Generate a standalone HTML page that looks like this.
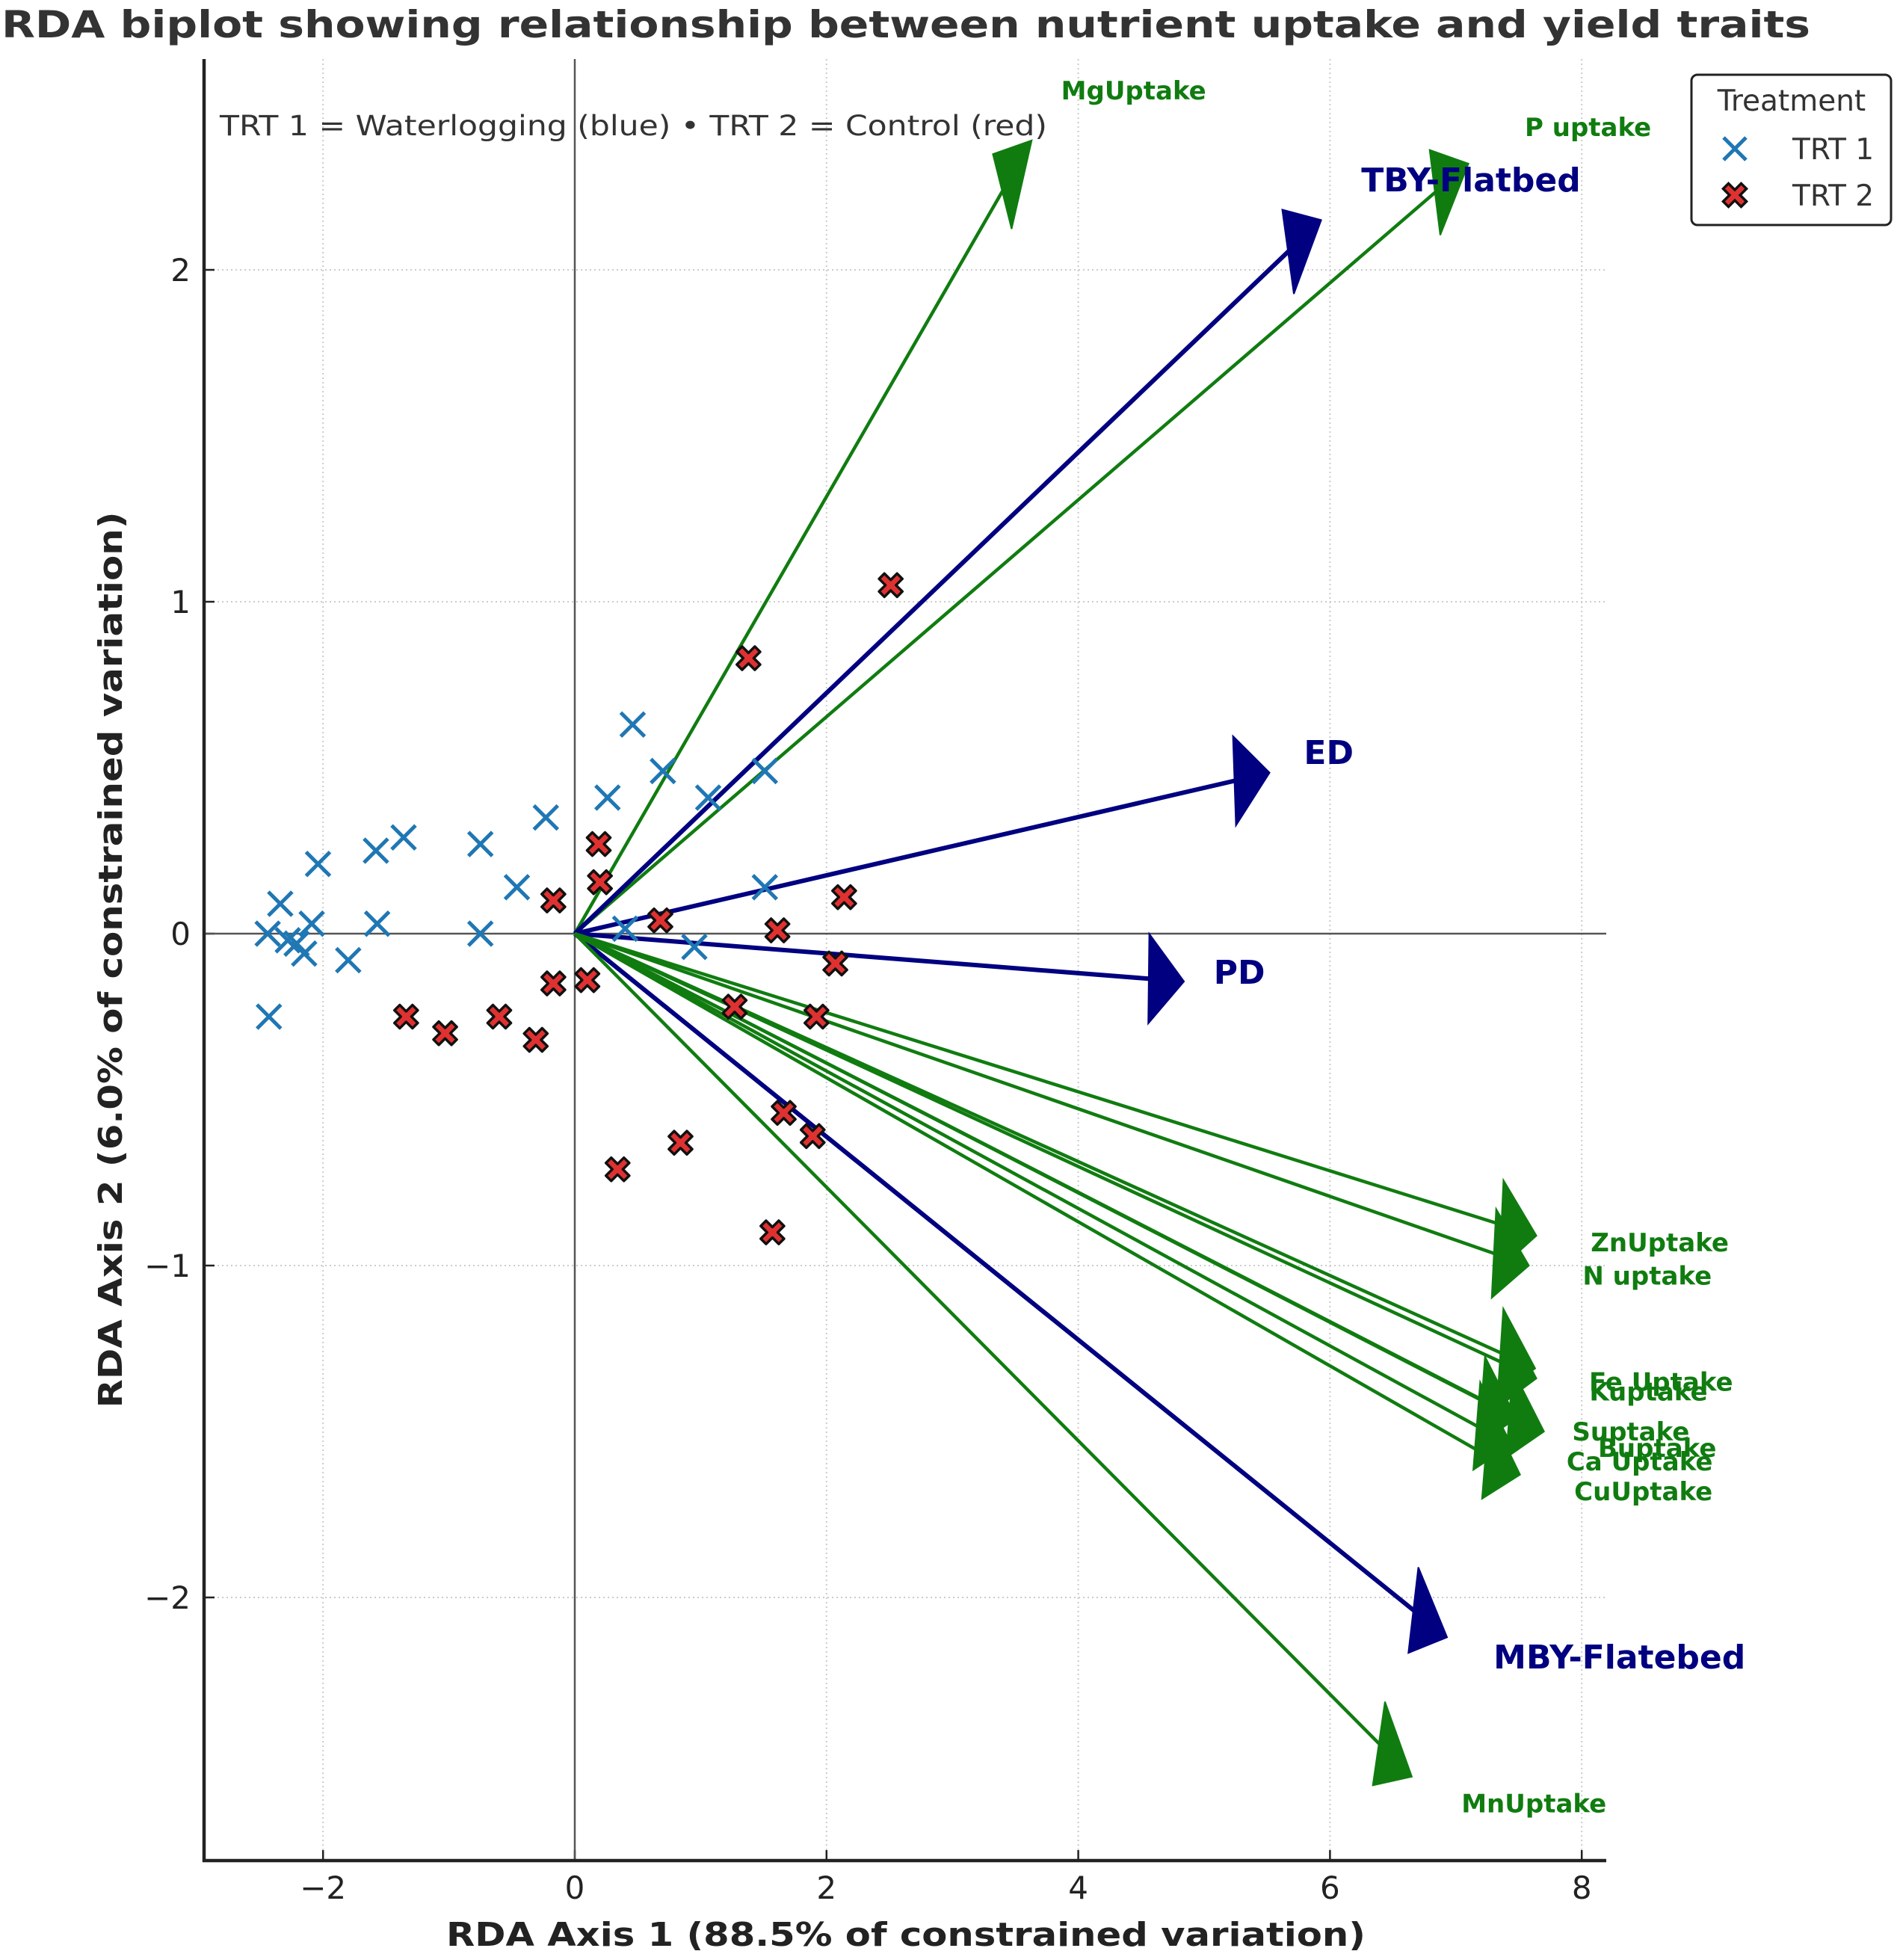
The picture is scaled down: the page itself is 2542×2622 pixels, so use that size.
<!DOCTYPE html>
<html><head><meta charset="utf-8"><style>
html,body{margin:0;padding:0;background:#fff;}
svg{display:block;font-family:"DejaVu Sans","Liberation Sans",sans-serif;}
</style></head><body>
<svg id="chart" width="2542" height="2622" viewBox="0 0 2542 2622" xmlns="http://www.w3.org/2000/svg">
<rect width="2542" height="2622" fill="#fff"/>
<g id="grid"></g>
<g id="axes"></g>
<g id="arrows"></g>
<g id="points"></g>
<g id="labels"></g>
<text x="1212" y="50" text-anchor="middle" font-size="50" font-weight="bold" fill="#333" textLength="2420" lengthAdjust="spacingAndGlyphs">RDA biplot showing relationship between nutrient uptake and yield traits</text>
<text x="294" y="181" font-size="37" fill="#333" textLength="1107" lengthAdjust="spacingAndGlyphs">TRT 1 = Waterlogging (blue)  •  TRT 2 = Control (red)</text>
<text x="1212" y="2603" text-anchor="middle" font-size="44" font-weight="bold" fill="#222" textLength="1230" lengthAdjust="spacingAndGlyphs">RDA Axis 1 (88.5% of constrained variation)</text>
<text transform="translate(163,1284) rotate(-90)" text-anchor="middle" font-size="44" font-weight="bold" fill="#222" textLength="1199" lengthAdjust="spacingAndGlyphs">RDA Axis 2 (6.0% of constrained variation)</text>
<g>
<rect x="2263" y="100" width="267" height="201" rx="8" fill="#fff" stroke="#222" stroke-width="3"/>
<text x="2397" y="148" text-anchor="middle" font-size="39" fill="#333">Treatment</text>
<g>
<path d="M2306 184 L2336 214 M2336 184 L2306 214" stroke="#1f77b4" stroke-width="5"/>
<text x="2398" y="213" font-size="39" fill="#333">TRT 1</text>
</g>
<g>
<path transform="translate(2321,261) rotate(45)" d="M-5 -17 H5 V-5 H17 V5 H5 V17 H-5 V5 H-17 V-5 H-5 Z" fill="#e03131" stroke="#111" stroke-width="3.5"/>
<text x="2398" y="275" font-size="39" fill="#333">TRT 2</text>
</g>
</g>
</svg>
<script>
const xTicks=[-2,0,2,4,6,8];
const yTicks=[-2,-1,0,1,2];
const trt1X=[-2.44,-2.34,-2.28,-2.21,-2.15,-2.09,-2.04,-2.43,-1.80,-1.58,-1.57,-1.36,-0.75,-0.75,-0.46,-0.23,0.26,0.46,0.70,1.06,1.51,1.51,0.40,0.95];
const trt1Y=[0.00,0.09,-0.02,-0.03,-0.06,0.03,0.21,-0.25,-0.08,0.25,0.03,0.29,0.27,0.00,0.14,0.35,0.41,0.63,0.49,0.41,0.49,0.14,0.015,-0.04];
const trt2X=[2.51,1.38,0.19,0.20,-0.17,0.68,1.61,2.14,2.07,-0.17,0.10,-1.34,-1.03,-0.60,-0.31,1.27,1.92,1.66,1.89,0.84,0.34,1.57];
const trt2Y=[1.05,0.83,0.27,0.155,0.10,0.04,0.01,0.11,-0.09,-0.15,-0.14,-0.25,-0.30,-0.25,-0.32,-0.22,-0.25,-0.54,-0.61,-0.63,-0.71,-0.90];
const vecNames=["MgUptake","P uptake","TBY-Flatbed","ED","PD","MBY-Flatebed","MnUptake","ZnUptake","N uptake","Fe Uptake","Kuptake","Suptake","Buptake","Ca Uptake","CuUptake"];
const vecX=[3.63,7.10,5.93,5.52,4.84,6.93,6.65,7.64,7.58,7.63,7.64,7.48,7.70,7.44,7.51];
const vecY=[2.39,2.32,2.15,0.485,-0.144,-2.12,-2.54,-0.91,-1.00,-1.31,-1.34,-1.46,-1.50,-1.54,-1.63];
const vecKind=["nut","nut","yield","yield","yield","yield","nut","nut","nut","nut","nut","nut","nut","nut","nut"];
const labX=[4.44,8.05,7.12,5.99,5.28,8.30,7.62,8.62,8.52,8.63,8.53,8.39,8.60,8.46,8.49];
const labY=[2.54,2.43,2.27,0.545,-0.117,-2.18,-2.62,-0.93,-1.03,-1.35,-1.38,-1.50,-1.55,-1.59,-1.68];

const NS="http://www.w3.org/2000/svg";
const X0=769,XU=168.4,Y0=1249,YU=444,L=273,R=2149,T=79,B=2489;
const sx=v=>X0+v*XU, sy=v=>Y0-v*YU;
function mk(tag,attrs,parent){const e=document.createElementNS(NS,tag);for(const k in attrs)e.setAttribute(k,attrs[k]);parent.appendChild(e);return e;}
const grid=document.getElementById('grid'),axes=document.getElementById('axes');
xTicks.forEach(t=>{
  const g=mk('line',{x1:sx(t),x2:sx(t),y1:T,y2:B,stroke:'#ccc','stroke-width':2,'stroke-dasharray':'2,4'},grid);
  
  
  const tk=mk('line',{x1:sx(t),x2:sx(t),y1:B,y2:B-14,stroke:'#222','stroke-width':2.5},axes);
  
  
  const tx=mk('text',{x:sx(t),y:2540,'text-anchor':'middle','font-size':42,fill:'#222'},axes);
  tx.textContent=(t<0?'\u2212':'')+Math.abs(t);
  
  
});
yTicks.forEach(t=>{
  const g=mk('line',{x1:L,x2:R,y1:sy(t),y2:sy(t),stroke:'#ccc','stroke-width':2,'stroke-dasharray':'2,4'},grid);
  
  
  const tk=mk('line',{x1:L,x2:L+14,y1:sy(t),y2:sy(t),stroke:'#222','stroke-width':2.5},axes);
  
  
  const tx=mk('text',{x:255,y:sy(t)+15,'text-anchor':'end','font-size':42,fill:'#222'},axes);
  tx.textContent=(t<0?'\u2212':'')+Math.abs(t);
  
  
});
const zx=mk('line',{x1:sx(0),x2:sx(0),y1:T,y2:B,stroke:'#555','stroke-width':2.5},axes);


const zy=mk('line',{x1:L,x2:R,y1:sy(0),y2:sy(0),stroke:'#555','stroke-width':2.5},axes);


const sl=mk('line',{x1:L,x2:L,y1:T,y2:B+2,stroke:'#222','stroke-width':4.5},axes);


const sb=mk('line',{x1:L-2,x2:R,y1:B,y2:B,stroke:'#222','stroke-width':4.5},axes);



const arrows=document.getElementById('arrows'),labels=document.getElementById('labels');
const HW=0.27,HL=0.28;
vecNames.forEach((n,i)=>{
  const col=vecKind[i]==='yield'?'#000080':'#107c10';
  const vx=vecX[i],vy=vecY[i],len=Math.hypot(vx,vy),dx=vx/len,dy=vy/len,px=-dy,py=dx;
  const bx=vx-HL*dx,by=vy-HL*dy;
  const g=mk('g',{},arrows);
  
  
  mk('line',{x1:sx(0),y1:sy(0),x2:sx(bx+0.05*dx),y2:sy(by+0.05*dy),stroke:col,'stroke-width':vecKind[i]==='yield'?6:4.5},g);
  const pts=[[vx,vy],[bx+HW/2*px,by+HW/2*py],[bx-HW/2*px,by-HW/2*py]].map(p=>sx(p[0])+','+sy(p[1])).join(' ');
  mk('polygon',{points:pts,fill:col,stroke:col,'stroke-width':2},g);
  const big=vecKind[i]==='yield';
  const t=mk('text',{x:sx(labX[i]),y:sy(labY[i])+(big?15:12),'text-anchor':'middle','font-size':big?44:34,'font-weight':'bold',fill:col},labels);
  t.textContent=n;
  
  
});

const points=document.getElementById('points');
trt1X.forEach((v,i)=>{
  const x=sx(v),y=sy(trt1Y[i]);
  const p=mk('path',{d:`M${x-16} ${y-16} L${x+16} ${y+16} M${x+16} ${y-16} L${x-16} ${y+16}`,stroke:'#1f77b4','stroke-width':5},points);
  
  
});
trt2X.forEach((v,i)=>{
  const x=sx(v),y=sy(trt2Y[i]);
  const p=mk('path',{transform:`translate(${x},${y}) rotate(45)`,d:'M-5 -17 H5 V-5 H17 V5 H5 V17 H-5 V5 H-17 V-5 H-5 Z',fill:'#e03131',stroke:'#111','stroke-width':3.5,'stroke-linejoin':'round'},points);
  
  
});
</script>
</body></html>
